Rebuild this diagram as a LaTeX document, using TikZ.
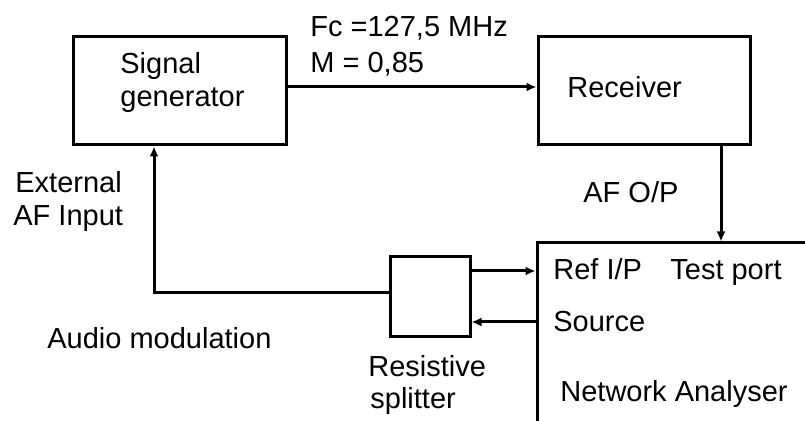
\documentclass[tikz,border=0pt]{standalone}
\usepackage{fontspec}
\setmainfont{Liberation Sans}
\usetikzlibrary{arrows.meta}

\begin{document}
\begin{tikzpicture}[x=0.5pt, y=-0.5pt,
    box/.style={rectangle, draw, line width=1.5pt, inner sep=0pt},
    arrow/.style={-{Latex[length=5pt,width=4.5pt]}, line width=1.5pt},
    txt/.style={anchor=base west, inner sep=0pt, font=\fontsize{14.5}{17}\selectfont}
]

\path[use as bounding box, clip] (0,0) rectangle (805,421);

% Boxes
\node[box, minimum width=106.5pt, minimum height=54pt] (siggen) at (179.5,91) {};
\node[box, minimum width=106pt, minimum height=54pt] (receiver) at (644,91) {};
\node[box, minimum width=40pt, minimum height=40pt] (splitter) at (430,297) {};
\node[box, minimum width=181.5pt, minimum height=128.5pt] (analyser) at (718.5,371.5) {};

% Labels
\node[txt] (siggen1) at (120,74) {Signal};
\node[txt] (siggen2) at (120,107) {generator};
\node[txt] (rectxt) at (567,98) {Receiver};
\node[txt] (fc) at (310,37) {Fc =127,5 MHz};
\node[txt] (mod) at (310,73) {M = 0,85};
\node[txt] (afop) at (583,203) {AF O/P};
\node[txt] (ext1) at (15,193) {External};
\node[txt] (ext2) at (13,226) {AF Input};
\node[txt] (audio) at (47,349) {Audio modulation};
\node[txt] (split1) at (368,377) {Resistive};
\node[txt] (split2) at (370,409) {splitter};
\node[txt] (refip) at (553,280) {Ref I/P};
\node[txt] (testport) at (670,280) {Test port};
\node[txt] (source) at (553,332) {Source};
\node[txt] (natxt) at (560,402) {Network Analyser};

% Arrows
\coordinate (corner) at (154,293);
\draw[arrow] ([yshift=2pt]siggen.east) -- ([yshift=2pt]receiver.west);
\draw[arrow] ([xshift=38.5pt]receiver.south) -- ([xshift=38.5pt]receiver.south |- analyser.north);
\draw[arrow] ([yshift=13pt]splitter.east) -- ([yshift=13pt]splitter.east -| analyser.west);
\draw[arrow] ([yshift=-12.5pt]splitter.east -| analyser.west) -- ([yshift=-12.5pt]splitter.east);
\draw[arrow] ([yshift=2pt]splitter.west) -- (corner) -- (corner |- siggen.south);

\end{tikzpicture}
\end{document}
